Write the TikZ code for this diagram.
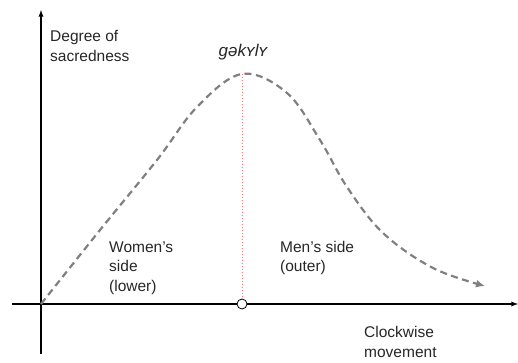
\documentclass[tikz,border=0pt]{standalone}
\usepackage{fontspec}
\setmainfont{Liberation Sans}
\usetikzlibrary{arrows,arrows.meta}
\pgfdeclarelayer{background}
\pgfsetlayers{background,main}

\begin{document}
\begin{tikzpicture}[x=1pt,y=1pt,
  lbl/.style={anchor=west,align=left,inner sep=0pt,text=black!85,font=\fontsize{15.5}{19.5}\selectfont},
  curve/.style={draw=gray,line width=2.2pt,dash pattern=on 7pt off 4.5pt}]
\useasboundingbox (0,0) rectangle (518,362);

\coordinate (O) at (41,58);
\coordinate (ytop) at (41,352);
\coordinate (ybot) at (41,8);
\coordinate (xl) at (12,58);
\coordinate (xr) at (518,58);
\coordinate (P) at (242,288);
\coordinate (E) at (485,76);
\node[inner sep=0pt,minimum size=10pt,circle,draw,thick,fill=white] (M) at (242,58) {};

\begin{pgfonlayer}{background}
\path[->, >=latex, line width=1.3pt] (ybot) edge (ytop);
\path[->, >=latex, line width=1.3pt] (xl) edge (xr);
\end{pgfonlayer}

\path[draw=red!55,dotted,line width=1pt] (P) edge (M.north);
\draw[curve,-{Latex[length=9pt,width=8pt]}] plot[smooth,tension=0.6] coordinates
  {(O) (100,132) (157,202) (197,255) (P) (287,269) (320,222) (347,175) (383,129) (433,94) (E)};

\node[lbl] (axy) at (50,316) {Degree of\\sacredness};
\node[text=black!85,font=\fontsize{17}{20}\selectfont\itshape] (top) at (243,310) {gəkʏlʏ};
\node[lbl] (women) at (109,94) {Women’s\\side\\(lower)};
\node[lbl] (men) at (280,104) {Men’s side\\(outer)};
\node[lbl] (axx) at (364,20) {Clockwise\\movement};

\end{tikzpicture}
\end{document}
